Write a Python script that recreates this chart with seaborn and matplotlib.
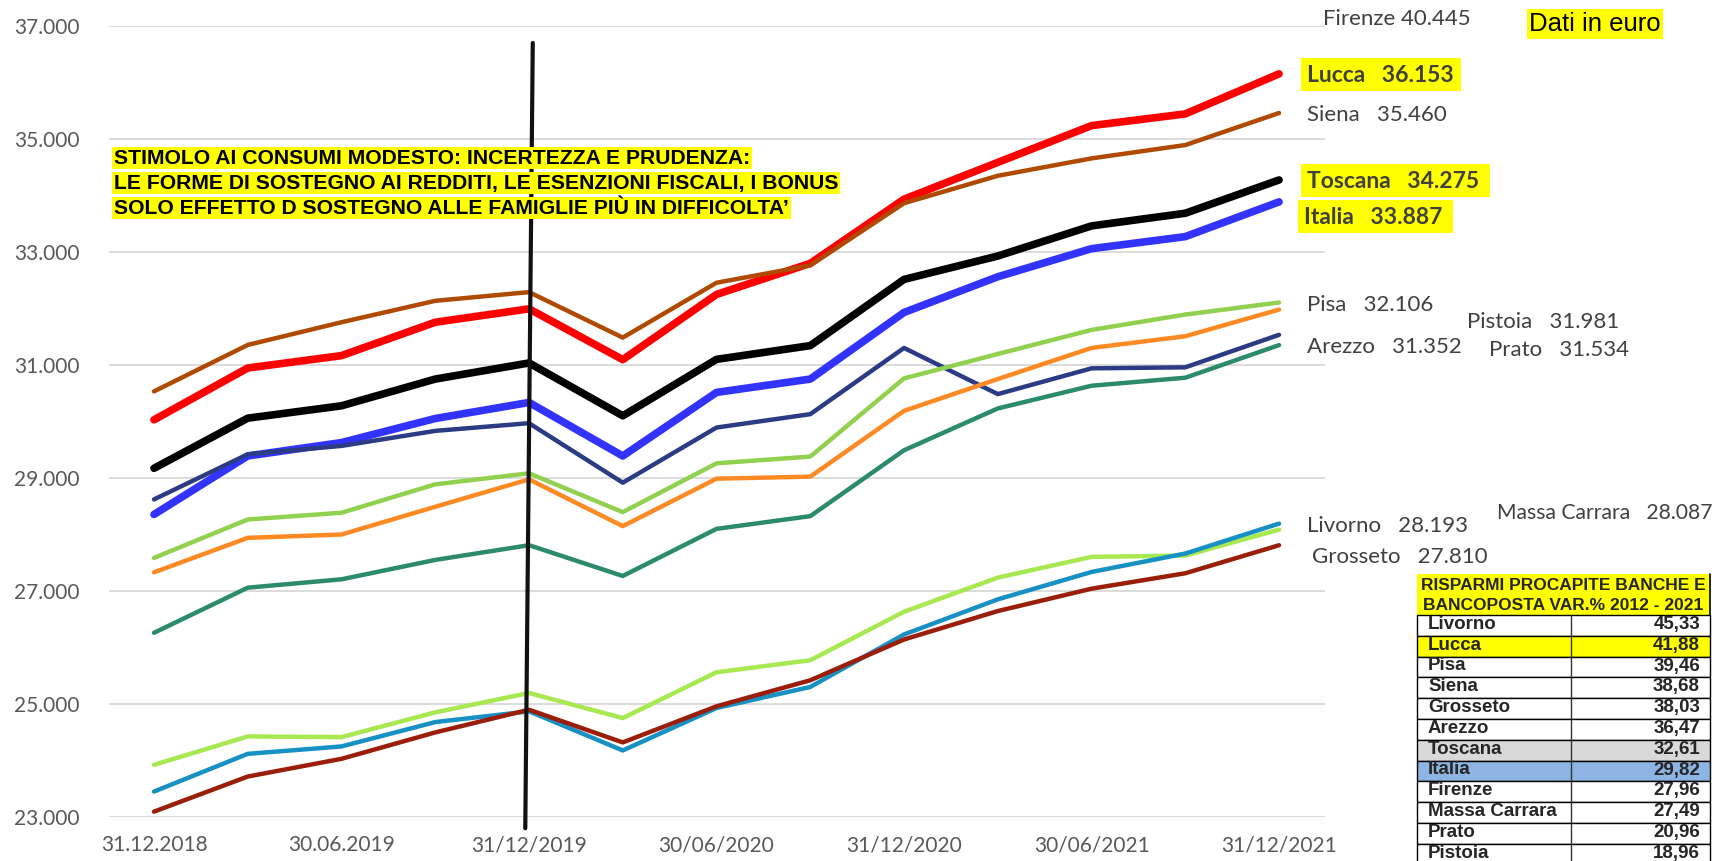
import numpy as np
import pandas as pd
import seaborn as sns
import matplotlib.pyplot as plt
from matplotlib.patches import Rectangle
from matplotlib.lines import Line2D

# quarterly dates, only every second one is labelled on the axis
dates = ['31.12.2018', '31.03.2019', '30.06.2019', '30.09.2019', '31/12/2019',
         '31/03/2020', '30/06/2020', '30/09/2020', '31/12/2020', '31/03/2021',
         '30/06/2021', '30/09/2021', '31/12/2021']

# savings per capita (euro)
lucca = [30030, 30947, 31166, 31757, 31994, 31095, 32249, 32799, 33935, 34586, 35237, 35444, 36153]
siena = [30533, 31355, 31757, 32136, 32290, 31485, 32456, 32763, 33864, 34349, 34657, 34893, 35460]
toscana = [29172, 30059, 30278, 30751, 31036, 30101, 31100, 31343, 32515, 32929, 33462, 33686, 34275]
italia = [28355, 29390, 29627, 30053, 30337, 29390, 30515, 30751, 31930, 32562, 33059, 33272, 33887]
prato = [28621, 29420, 29568, 29834, 29970, 28917, 29893, 30130, 31302, 30485, 30941, 30959, 31534]
pisa = [27586, 28266, 28385, 28888, 29083, 28396, 29260, 29379, 30763, 31195, 31621, 31893, 32106]
pistoia = [27330, 27941, 28000, 28491, 28976, 28148, 28988, 29024, 30189, 30751, 31302, 31509, 31981]
arezzo = [26260, 27059, 27207, 27550, 27811, 27266, 28100, 28325, 29491, 30231, 30633, 30775, 31352]
massa = [23923, 24426, 24414, 24852, 25195, 24751, 25562, 25775, 26633, 27237, 27604, 27627, 28087]
livorno = [23450, 24118, 24249, 24680, 24870, 24178, 24929, 25302, 26231, 26852, 27337, 27663, 28193]
grosseto = [23095, 23716, 24030, 24497, 24899, 24320, 24959, 25420, 26142, 26645, 27041, 27314, 27810]

# table: % change 2012 - 2021
tab_names = ['Livorno', 'Lucca', 'Pisa', 'Siena', 'Grosseto', 'Arezzo', 'Toscana',
             'Italia', 'Firenze', 'Massa Carrara', 'Prato', 'Pistoia']
tab_values = ['45,33', '41,88', '39,46', '38,68', '38,03', '36,47', '32,61',
              '29,82', '27,96', '27,49', '20,96', '18,96']

# (name, values, colour, linewidth) in drawing order
series = [
    ('Lucca', lucca, '#FF0000', 5.5),
    ('Italia', italia, '#3333FF', 5.5),
    ('Toscana', toscana, '#000000', 5.5),
    ('Prato', prato, '#2B3B84', 3.2),
    ('Siena', siena, '#B04A00', 3.2),
    ('Pisa', pisa, '#92D050', 3.2),
    ('Pistoia', pistoia, '#FF8A24', 3.2),
    ('Arezzo', arezzo, '#2C8B6D', 3.2),
    ('Massa Carrara', massa, '#A8E850', 3.2),
    ('Livorno', livorno, '#1790C4', 3.2),
    ('Grosseto', grosseto, '#9A1E0A', 3.2),
]

rows = []
for name, vals, c, lw in series:
    for i, v in enumerate(vals):
        rows.append({'serie': name, 'pos': i, 'valore': v})
df = pd.DataFrame(rows)

sns.set_style('white')
plt.rcParams['font.family'] = ['Lato', 'DejaVu Sans']

W, H = 1725, 861
fig = plt.figure(figsize=(W / 100, H / 100), dpi=100)
ax = fig.add_axes([109 / W, 1 - 817 / H, (1325 - 109) / W, (817 - 26) / H])

for name, vals, c, lw in series:
    sns.lineplot(data=df[df.serie == name], x='pos', y='valore', color=c,
                 linewidth=lw, solid_capstyle='round', ax=ax, zorder=3)

ax.set_xlim(-0.48, 12.49)
ax.set_ylim(23000, 37000)
yt = list(range(23000, 37001, 2000))
ax.set_yticks(yt)
ax.set_yticklabels([f'{v:,}'.replace(',', '.') for v in yt])
ax.set_xticks(range(0, 13, 2))
ax.set_xticklabels(dates[::2])
ax.set_xlabel('')
ax.set_ylabel('')
ax.yaxis.grid(True, color='#D9D9D9', linewidth=1.3)
ax.xaxis.grid(False)
ax.set_axisbelow(True)
for s in ax.spines.values():
    s.set_visible(False)
ax.tick_params(axis='both', length=0, labelsize=15, colors='#595959')
ax.tick_params(axis='y', pad=21)
ax.tick_params(axis='x', pad=13)

# vertical marker at end of 2019
ax.add_line(Line2D([4.04, 3.96], [36700, 22800], color='#111111', lw=3,
                   clip_on=False, zorder=6))

# overlay in pixel coordinates for labels and table
ov = fig.add_axes([0, 0, 1, 1], zorder=10)
ov.set_xlim(0, W)
ov.set_ylim(H, 0)
ov.axis('off')
ov.patch.set_alpha(0)

yellow = '#FFFF00'
grey = '#404040'

notes = ['STIMOLO AI CONSUMI MODESTO: INCERTEZZA E PRUDENZA:',
         'LE FORME DI SOSTEGNO AI REDDITI, LE ESENZIONI FISCALI, I BONUS',
         'SOLO EFFETTO D SOSTEGNO ALLE FAMIGLIE PIÙ IN DIFFICOLTA’']
for k, t in enumerate(notes):
    ov.text(114, 158 + k * 25, t, fontsize=15.2, fontweight='bold', va='center',
            family='Liberation Sans', color='black',
            bbox=dict(facecolor=yellow, edgecolor='none', pad=1.2))

# end labels
ov.text(1323, 19, 'Firenze 40.445', fontsize=16, color=grey, va='center')
ov.add_patch(Rectangle((1527, 9), 136, 30, facecolor=yellow, edgecolor='none'))
ov.text(1595, 24, 'Dati in euro', fontsize=18.5, family='Liberation Sans',
        color='black', ha='center', va='center')

boxed = [('Lucca   36.153', 1301, 58, 160, 33),
         ('Toscana   34.275', 1301, 164, 189, 33),
         ('Italia   33.887', 1298, 200, 155, 33)]
for t, x0, y0, w, h in boxed:
    ov.add_patch(Rectangle((x0, y0), w, h, facecolor=yellow, edgecolor='none'))
    ov.text(x0 + 6, y0 + h / 2 + 1, t, fontsize=16.5, fontweight='bold',
            color=grey, va='center')

plain = [('Siena   35.460', 1307, 115, 16), ('Pisa   32.106', 1307, 305, 16),
         ('Pistoia   31.981', 1467, 322, 16), ('Arezzo   31.352', 1307, 347, 16),
         ('Prato   31.534', 1489, 350, 16), ('Livorno   28.193', 1307, 526, 16),
         ('Massa Carrara   28.087', 1497, 513, 15.2),
         ('Grosseto   27.810', 1312, 557, 16)]
for t, x0, y0, fs in plain:
    ov.text(x0, y0, t, fontsize=fs, color=grey, va='center')

# table
tx0, tx1, tx2 = 1417, 1571, 1710
ov.add_patch(Rectangle((tx0, 574), tx2 - tx0, 41, facecolor=yellow, edgecolor='none'))
ov.plot([tx2, tx2], [574, 615], color='black', lw=1.2)
ov.text((tx0 + tx2) / 2, 585, 'RISPARMI PROCAPITE BANCHE E', fontsize=12.5,
        fontweight='bold', family='Liberation Sans', ha='center', va='center')
ov.text((tx0 + tx2) / 2, 605, 'BANCOPOSTA VAR.% 2012 - 2021', fontsize=12.5,
        fontweight='bold', family='Liberation Sans', ha='center', va='center')

row_h = 20.8
fills = {'Lucca': yellow, 'Toscana': '#D9D9D9', 'Italia': '#8DB4E2'}
for r, (n, v) in enumerate(zip(tab_names, tab_values)):
    y0 = 615 + r * row_h
    ov.add_patch(Rectangle((tx0, y0), tx2 - tx0, row_h,
                           facecolor=fills.get(n, 'white'), edgecolor='black', lw=1))
    ov.plot([tx1, tx1], [y0, y0 + row_h], color='#333333', lw=1)
    ov.text(tx0 + 11, y0 + row_h / 2 - 1, n, fontsize=13.5, fontweight='bold',
            family='Liberation Sans', va='center')
    ov.text(tx2 - 10, y0 + row_h / 2 - 1, v, fontsize=13.5, fontweight='bold',
            family='Liberation Sans', va='center', ha='right')

fig.savefig('out.png', dpi=100)
